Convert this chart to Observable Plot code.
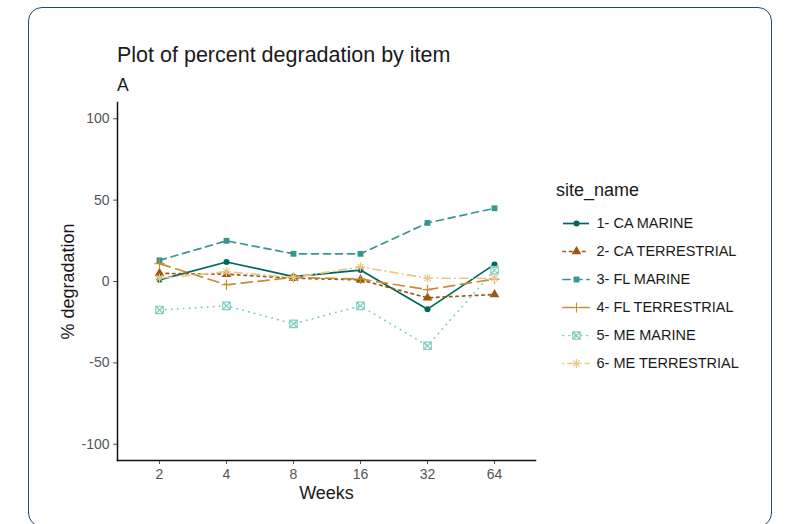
<!DOCTYPE html>
<html>
<head>
<meta charset="utf-8">
<script src="https://cdn.jsdelivr.net/npm/d3@7"></script>
<script src="https://cdn.jsdelivr.net/npm/@observablehq/plot@0.6"></script>
<style>
  html, body { margin: 0; padding: 0; background: #ffffff; }
  body { width: 788px; height: 524px; position: relative; overflow: hidden;
         font-family: "Liberation Sans", Arial, Helvetica, sans-serif; }
  #frame { position: absolute; left: 28px; top: 7px; width: 744px; height: 520px;
           border: 1.6px solid #1f4a6b; border-radius: 14px; box-sizing: border-box; }
  .txt { position: absolute; white-space: nowrap; color: #1a1a1a; }
  #title { left: 117px; top: 42px; font-size: 21.5px; line-height: 26px; }
  #subtitle { left: 117px; top: 74px; font-size: 17.5px; line-height: 22px; }
  #legtitle { left: 556px; top: 179px; font-size: 18px; line-height: 22px; }
  #chart { position: absolute; left: 0; top: 0; }
  #legend { position: absolute; left: 555px; top: 205px; }
  svg { overflow: visible; }
</style>
</head>
<body>
<div id="frame"></div>
<div class="txt" id="title">Plot of percent degradation by item</div>
<div class="txt" id="subtitle">A</div>
<div class="txt" id="legtitle">site_name</div>
<div id="chart"></div>
<div id="legend"></div>
<script>
// ---- data ----
const weeks = ["2", "4", "8", "16", "32", "64"];
const seriesNames = ["1- CA MARINE", "2- CA TERRESTRIAL", "3- FL MARINE",
                     "4- FL TERRESTRIAL", "5- ME MARINE", "6- ME TERRESTRIAL"];
const caMarine = [1, 12, 3, 7, -17, 10.5];
const caTerrestrial = [5, 4.5, 2, 1, -10, -8];
const flMarine = [13, 25, 17, 17, 36, 45];
const flTerrestrial = [11, -2, 2.5, 1.5, -5, 1.5];
const meMarine = [-17.5, -15, -26, -15, -39.5, 7];
const meTerrestrial = [2, 6, 2.5, 9, 2, 2];
const yTicks = [-100, -50, 0, 50, 100];

const seriesValues = [caMarine, caTerrestrial, flMarine, flTerrestrial, meMarine, meTerrestrial];
const table = [];
seriesNames.forEach((s, i) => weeks.forEach((w, j) =>
  table.push({site: s, week: w, value: seriesValues[i][j]})));

// ---- custom ggplot-like symbols ----
const boxedX = { draw(ctx, size) { const r = Math.sqrt(size) / 2;
  ctx.moveTo(-r, -r); ctx.lineTo(r, -r); ctx.lineTo(r, r); ctx.lineTo(-r, r); ctx.closePath();
  ctx.moveTo(-r, -r); ctx.lineTo(r, r); ctx.moveTo(r, -r); ctx.lineTo(-r, r); } };
const asterisk = { draw(ctx, size) { const r = Math.sqrt(size) / 2; const d = r * 0.72;
  ctx.moveTo(-r, 0); ctx.lineTo(r, 0); ctx.moveTo(0, -r); ctx.lineTo(0, r);
  ctx.moveTo(-d, -d); ctx.lineTo(d, d); ctx.moveTo(d, -d); ctx.lineTo(-d, d); } };
const plusSym = { draw(ctx, size) { const r = Math.sqrt(size) / 2;
  ctx.moveTo(-r, 0); ctx.lineTo(r, 0); ctx.moveTo(0, -r); ctx.lineTo(0, r); } };

// ---- styles ----
const styles = [
  {color: "#01665E", dash: null,      symbol: "circle",   filled: true,  r: 3.0},
  {color: "#9A5812", dash: "2.5,4",   symbol: "triangle", filled: true,  r: 3.6},
  {color: "#35978F", dash: "7,5",     symbol: "square",   filled: true,  r: 3.3},
  {color: "#C98B35", dash: "11,6",    symbol: plusSym,    filled: false, r: 5.6},
  {color: "#80CDC1", dash: "0.5,5.5", symbol: boxedX,     filled: false, r: 4.2},
  {color: "#E8C987", dash: "0.5,4.5,8,4.5", symbol: asterisk, filled: false, r: 5.0}
];

function dotOpts(st, extra) {
  return Object.assign({
    symbol: st.symbol, r: st.r,
    fill: st.filled ? st.color : "none",
    stroke: st.filled ? "none" : st.color,
    strokeWidth: st.filled ? 0 : 1.2
  }, extra);
}

// ---- main chart ----
const marks = [
  Plot.axisY({ticks: yTicks, tickSize: 4, tickPadding: 4, fontSize: 14, color: "#555",
              label: null, tickFormat: d => String(d)}),
  Plot.axisX({tickSize: 4, tickPadding: 5, fontSize: 14, color: "#555", label: null}),
  Plot.frame({anchor: "left", stroke: "#111", strokeWidth: 1.5}),
  Plot.frame({anchor: "bottom", stroke: "#111", strokeWidth: 1.5}),
  Plot.text(["% degradation"], {frameAnchor: "left", dx: -49, rotate: -90, textAnchor: "middle",
            lineAnchor: "middle", fontSize: 18, fill: "#1a1a1a"}),
  Plot.text(["Weeks"], {frameAnchor: "bottom", dy: 33, textAnchor: "middle", lineAnchor: "middle",
            fontSize: 18, fill: "#1a1a1a"})
];
seriesNames.forEach((s, i) => {
  const st = styles[i];
  const rows = table.filter(d => d.site === s);
  marks.push(Plot.line(rows, {x: "week", y: "value", stroke: st.color, strokeWidth: 1.7,
    strokeDasharray: st.dash, strokeLinecap: st.dash ? "round" : "butt"}));
});
seriesNames.forEach((s, i) => {
  const st = styles[i];
  const rows = table.filter(d => d.site === s);
  marks.push(Plot.dot(rows, dotOpts(st, {x: "week", y: "value"})));
});

const chart = Plot.plot({
  width: 560, height: 524,
  marginLeft: 117, marginRight: 25, marginTop: 102, marginBottom: 64,
  style: {fontFamily: "'Liberation Sans', Arial, Helvetica, sans-serif", background: "transparent"},
  x: {type: "point", domain: weeks, padding: 0.6},
  y: {domain: [-110, 110]},
  marks
});
document.getElementById("chart").appendChild(chart);

// ---- legend ----
const legMarks = [];
seriesNames.forEach((s, i) => {
  const st = styles[i];
  legMarks.push(Plot.ruleY([s], {y: d => d, x1: 8, x2: 34, stroke: st.color, strokeWidth: 1.7,
    strokeDasharray: st.dash, strokeLinecap: st.dash ? "round" : "butt"}));
  legMarks.push(Plot.dot([s], dotOpts(st, {x: 21, y: d => d})));
});
legMarks.push(Plot.text(seriesNames, {x: 41, y: d => d, textAnchor: "start", fontSize: 14.5, fill: "#1a1a1a"}));

const legend = Plot.plot({
  width: 220, height: 180, margin: 0,
  style: {fontFamily: "'Liberation Sans', Arial, Helvetica, sans-serif", background: "transparent"},
  x: {domain: [0, 220], range: [0, 220], axis: null},
  y: {type: "point", domain: seriesNames, range: [17.5, 158], padding: 0, axis: null},
  marks: legMarks
});
document.getElementById("legend").appendChild(legend);
</script>
</body>
</html>
